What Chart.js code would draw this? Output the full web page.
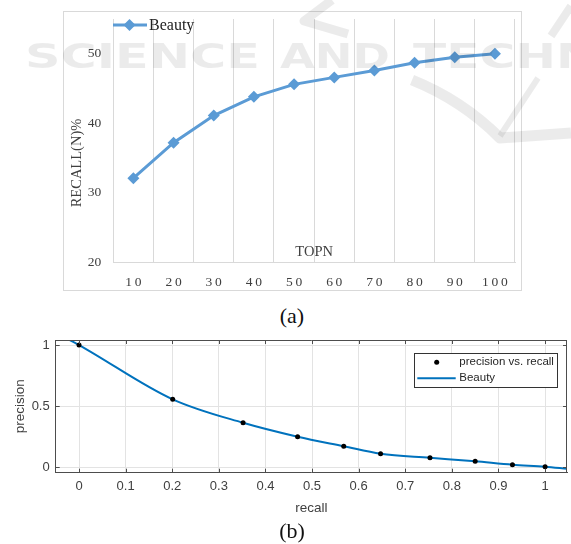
<!DOCTYPE html>
<html>
<head>
<meta charset="utf-8">
<script src="https://cdn.jsdelivr.net/npm/chart.js@4.4.1/dist/chart.umd.min.js"></script>
<style>
  html, body { margin: 0; padding: 0; background: #fff; }
  #page { position: relative; width: 571px; height: 544px; overflow: hidden; background: #fff; }
  #frameA {
    position: absolute; left: 63px; top: 11px; width: 459px; height: 280px;
    border: 1px solid #d9d9d9; box-sizing: border-box;
  }
  #chartA { position: absolute; left: 0; top: 0; }
  #chartB { position: absolute; left: 0; top: 330px; }
  .caption {
    position: absolute; width: 80px; text-align: center;
    font-family: "Liberation Serif", "Times New Roman", serif; font-size: 22px; color: #111;
    line-height: 26px;
  }
  #mark { position: absolute; left: 0; top: 0; pointer-events: none; z-index: 10; }
</style>
</head>
<body>
<div id="page">
  <div id="frameA"><canvas id="chartA" width="457" height="278"></canvas></div>
  <div class="caption" style="left:252px; top:303px;">(a)</div>
  <canvas id="chartB" width="571" height="192"></canvas>
  <div class="caption" style="left:252px; top:518px;">(b)</div>

  <!-- publisher watermark -->
  <svg id="mark" width="571" height="544" viewBox="0 0 571 544">
    <g fill="rgba(0,0,0,0.08)" font-family="DejaVu Sans, sans-serif" font-weight="bold" font-size="33">
      <text x="25" y="68" textLength="235" lengthAdjust="spacingAndGlyphs">SCIENCE</text>
      <text x="280" y="68" textLength="110" lengthAdjust="spacingAndGlyphs">AND</text>
      <text x="413" y="68" textLength="370" lengthAdjust="spacingAndGlyphs">TECHNOLOGY</text>
    </g>
    <g fill="none" stroke="rgba(0,0,0,0.08)" stroke-linejoin="round">
      <polyline points="332,0 304,21 348,34" stroke-width="9"/>
      <path d="M412,80 Q462,100 500,138 L571,133" stroke-width="11"/>
      <path d="M500,136 L538,78" stroke-width="6"/>
      <path d="M551,36 L571,6" stroke-width="8"/>
    </g>
  </svg>
</div>

<script>
// (a) recall of the Beauty set at each top-N cut-off
const topN = ['10', '20', '30', '40', '50', '60', '70', '80', '90', '100'];
const recallBeauty = [32.1, 37.2, 41.1, 43.8, 45.6, 46.6, 47.6, 48.7, 49.5, 50.0];
const recallTicks = [20, 30, 40, 50];

// (b) precision vs. recall points and the fitted curve through them
const prRecall = [0, 0.201, 0.352, 0.469, 0.568, 0.647, 0.753, 0.85, 0.93, 1.0];
const prPrecision = [1.0, 0.556, 0.364, 0.25, 0.172, 0.111, 0.078, 0.049, 0.021, 0.005];
const fitRecall = [-0.05, 0, 0.201, 0.352, 0.469, 0.568, 0.647, 0.753, 0.85, 0.93, 1.0, 1.047];
const fitPrecision = [1.10, 1.0, 0.556, 0.364, 0.25, 0.172, 0.111, 0.078, 0.049, 0.021, 0.005, -0.012];
const recallAxisTicks = [0, 0.1, 0.2, 0.3, 0.4, 0.5, 0.6, 0.7, 0.8, 0.9, 1];
const precisionAxisTicks = [0, 0.5, 1];

const EXCEL_BLUE = '#5B9BD5';
const MATLAB_BLUE = '#0072BD';
const SERIF = '"Liberation Serif", "Times New Roman", serif';
const SANS = '"Liberation Sans", Arial, sans-serif';

function diamond(ctx, x, y, r, color) {
    ctx.beginPath();
    ctx.moveTo(x - r, y);
    ctx.lineTo(x, y - r);
    ctx.lineTo(x + r, y);
    ctx.lineTo(x, y + r);
    ctx.closePath();
    ctx.fillStyle = color;
    ctx.fill();
}

// keep the plot area exactly where the axes' fixed sizes put it
function noLabelPadding(scale) {
    scale.paddingTop = 0;
    scale.paddingBottom = 0;
    scale.paddingLeft = 0;
    scale.paddingRight = 0;
}

/* -------------------- CHART (a) -------------------- */

const recallDecor = {
    id: 'recallDecor',
    afterDraw(chart) {
        const ctx = chart.ctx;
        const area = chart.chartArea;
        ctx.save();

        // axis titles
        ctx.fillStyle = '#404040';
        ctx.font = '14.5px ' + SERIF;
        ctx.textAlign = 'center';
        ctx.textBaseline = 'middle';
        ctx.fillText('TOPN', (area.left + area.right) / 2, area.bottom - 10);

        ctx.save();
        ctx.translate(12.7, 151);
        ctx.rotate(-Math.PI / 2);
        ctx.fillText('RECALL(N)%', 0, 0);
        ctx.restore();

        // legend
        const ds = chart.data.datasets[0];
        ctx.strokeStyle = ds.borderColor;
        ctx.lineWidth = 3;
        ctx.beginPath();
        ctx.moveTo(49, 13);
        ctx.lineTo(83, 13);
        ctx.stroke();
        diamond(ctx, 65.5, 13, 6, ds.pointBackgroundColor);
        ctx.fillStyle = '#222';
        ctx.font = '16px ' + SERIF;
        ctx.textAlign = 'left';
        ctx.fillText(ds.label, 85, 14);

        ctx.restore();
    }
};

new Chart(document.getElementById('chartA'), {
    type: 'line',
    data: {
        labels: topN,
        datasets: [{
            label: 'Beauty',
            data: recallBeauty,
            borderColor: EXCEL_BLUE,
            borderWidth: 3,
            pointStyle: 'rectRot',
            pointRadius: 6,
            pointBackgroundColor: EXCEL_BLUE,
            pointBorderColor: EXCEL_BLUE,
            pointBorderWidth: 0,
            tension: 0
        }]
    },
    options: {
        responsive: false,
        animation: false,
        events: [],
        layout: { padding: { top: 7, right: 3, left: 0, bottom: 0 } },
        plugins: { legend: { display: false }, tooltip: { enabled: false } },
        scales: {
            x: {
                offset: true,
                grid: { display: true, offset: true, color: '#d9d9d9', lineWidth: 1, drawTicks: false },
                border: { display: true, color: '#d9d9d9' },
                ticks: {
                    color: '#404040',
                    font: { family: SERIF, size: 13.5 },
                    padding: 12,
                    maxRotation: 0,
                    callback(value) {
                        return String(this.getLabelForValue(value)).split('').join('\u2009');
                    }
                },
                afterFit(scale) {
                    scale.height = 27.7;
                    noLabelPadding(scale);
                }
            },
            y: {
                min: 20,
                max: 55,
                grid: { display: false, drawTicks: false },
                border: { display: false },
                ticks: {
                    color: '#404040',
                    font: { family: SERIF, size: 13.5 },
                    padding: 12
                },
                afterBuildTicks(scale) {
                    scale.ticks = recallTicks.map(v => ({ value: v }));
                },
                afterFit(scale) {
                    scale.width = 49.3;
                    noLabelPadding(scale);
                }
            }
        }
    },
    plugins: [recallDecor]
});

/* -------------------- CHART (b) -------------------- */

const prDecor = {
    id: 'prDecor',
    afterDraw(chart) {
        const ctx = chart.ctx;
        const area = chart.chartArea;
        const xs = chart.scales.x;
        const ys = chart.scales.y;
        ctx.save();

        // box and inward tick marks
        ctx.strokeStyle = '#4d4d4d';
        ctx.lineWidth = 1;
        ctx.beginPath();
        ctx.moveTo(area.left, area.top + 0.5);
        ctx.lineTo(area.right, area.top + 0.5);
        ctx.moveTo(area.right - 0.5, area.top);
        ctx.lineTo(area.right - 0.5, area.bottom);
        recallAxisTicks.forEach(v => {
            const px = Math.round(xs.getPixelForValue(v)) + 0.5;
            ctx.moveTo(px, area.bottom);
            ctx.lineTo(px, area.bottom - 4);
            ctx.moveTo(px, area.top);
            ctx.lineTo(px, area.top + 4);
        });
        precisionAxisTicks.forEach(v => {
            const py = Math.round(ys.getPixelForValue(v)) + 0.5;
            ctx.moveTo(area.left, py);
            ctx.lineTo(area.left + 4, py);
            ctx.moveTo(area.right, py);
            ctx.lineTo(area.right - 4, py);
        });
        ctx.stroke();

        // legend
        const pts = chart.data.datasets[0];
        const fit = chart.data.datasets[1];
        ctx.fillStyle = '#fff';
        ctx.fillRect(414, 23, 143, 34);
        ctx.strokeStyle = '#333';
        ctx.strokeRect(414.5, 23.5, 143, 34);

        ctx.fillStyle = pts.pointBackgroundColor;
        ctx.beginPath();
        ctx.arc(436.7, 32.3, 2.5, 0, Math.PI * 2);
        ctx.fill();

        ctx.strokeStyle = fit.borderColor;
        ctx.lineWidth = 2;
        ctx.beginPath();
        ctx.moveTo(417.3, 48.3);
        ctx.lineTo(455.7, 48.3);
        ctx.stroke();

        ctx.fillStyle = '#262626';
        ctx.font = '11.5px ' + SANS;
        ctx.textAlign = 'left';
        ctx.textBaseline = 'middle';
        ctx.fillText(pts.label, 459.3, 32.3);
        ctx.fillText(fit.label, 459.3, 48.3);

        ctx.restore();
    }
};

new Chart(document.getElementById('chartB'), {
    type: 'scatter',
    data: {
        datasets: [{
            label: 'precision vs. recall',
            data: prRecall.map((r, i) => ({ x: r, y: prPrecision[i] })),
            showLine: false,
            pointRadius: 2.5,
            pointBackgroundColor: '#000',
            pointBorderColor: '#000',
            pointBorderWidth: 0
        }, {
            label: 'Beauty',
            type: 'line',
            data: fitRecall.map((r, i) => ({ x: r, y: fitPrecision[i] })),
            borderColor: MATLAB_BLUE,
            borderWidth: 2,
            pointRadius: 0,
            cubicInterpolationMode: 'monotone',
            clip: 0
        }]
    },
    options: {
        responsive: false,
        animation: false,
        events: [],
        layout: { padding: { top: 10, right: 1.5, left: 0, bottom: 0 } },
        plugins: { legend: { display: false }, tooltip: { enabled: false } },
        scales: {
            x: {
                type: 'linear',
                min: -0.05,
                max: 1.047,
                grid: { color: '#e3e3e3', drawTicks: false },
                border: { display: true, color: '#4d4d4d' },
                ticks: {
                    color: '#404040',
                    font: { family: SANS, size: 13 },
                    padding: 6,
                    maxRotation: 0,
                    callback: v => String(v)
                },
                title: {
                    display: true,
                    text: 'recall',
                    color: '#404040',
                    font: { family: SANS, size: 13.5 },
                    padding: { top: 0, bottom: 6 }
                },
                afterBuildTicks(scale) {
                    scale.ticks = recallAxisTicks.map(v => ({ value: v }));
                },
                afterFit(scale) {
                    scale.height = 49.3;
                    noLabelPadding(scale);
                }
            },
            y: {
                type: 'linear',
                min: -0.044,
                max: 1.041,
                grid: { color: '#e3e3e3', drawTicks: false },
                border: { display: true, color: '#4d4d4d' },
                ticks: {
                    color: '#404040',
                    font: { family: SANS, size: 13 },
                    padding: 6,
                    callback: v => String(v)
                },
                title: {
                    display: true,
                    text: 'precision',
                    color: '#404040',
                    font: { family: SANS, size: 13.5 },
                    padding: { top: 12.6, bottom: 0 }
                },
                afterBuildTicks(scale) {
                    scale.ticks = precisionAxisTicks.map(v => ({ value: v }));
                },
                afterFit(scale) {
                    scale.width = 55.7;
                    noLabelPadding(scale);
                }
            }
        }
    },
    plugins: [prDecor]
});
</script>
</body>
</html>
